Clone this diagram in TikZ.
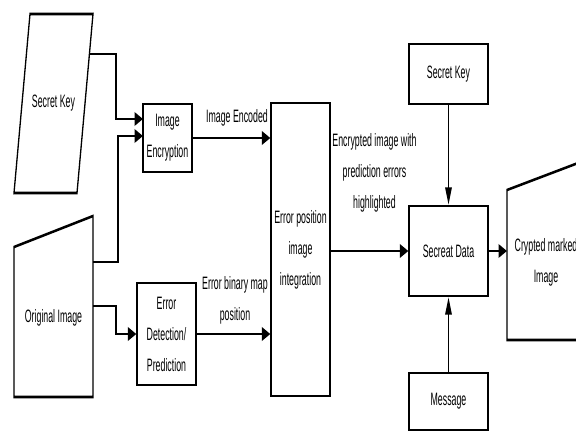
\documentclass[tikz,border=0pt]{standalone}
\usepackage{fontspec}
\setmainfont{Liberation Sans}
\usetikzlibrary{arrows.meta}
\begin{document}
\begin{tikzpicture}
\useasboundingbox (0,0) rectangle (576pt,-433pt);
\fill[white] (0,0) rectangle (576pt,-433pt);
\begin{scope}[transform canvas={yscale=2.04}, x=1pt, y=-0.4902pt,
  every node/.style={font=\fontsize{8.8}{15.2}\selectfont, align=center, inner sep=0pt},
  box/.style={draw, line width=1.3pt, inner sep=0pt},
  conn/.style={line width=1.3pt, -{Triangle[length=8.5pt,width=6.5pt]}},
  shapeline/.style={draw, line width=1.3pt}]
  % boxes
  \node[box, minimum width=49pt, minimum height=33.3pt] (enc) at (167.5,138) {Image\\Encryption};
  \node[box, minimum width=59pt, minimum height=50pt] (det) at (166.5,334) {Error\\Detection/\\Prediction};
  \node[box, minimum width=59pt, minimum height=143.6pt] (integ) at (300.5,249.5) {Error position\\image\\integration};
  \node[box, minimum width=79pt, minimum height=44.1pt] (sd) at (448.5,251) {Secreat Data};
  \node[box, minimum width=79pt, minimum height=29.4pt] (sk2) at (448.5,74) {Secret Key};
  \node[box, minimum width=79pt, minimum height=27.9pt] (msg) at (448.5,401.5) {Message};
  % secret key parallelogram
  \draw[shapeline] (30,14) -- (93,14) -- (77,193) -- (14,193) -- cycle;
  \node (sktxt) at (53.5,103) {Secret Key};
  \coordinate (skout) at (89.4,54);
  % original image
  \draw[shapeline] (14,247) -- (93,216) -- (93,397) -- (14,397) -- cycle;
  \node (oitxt) at (53.5,318) {Original Image};
  \coordinate (oiout1) at (93,262);
  \coordinate (oiout2) at (93,306);
  % crypted marked image
  \draw[shapeline] (507,190) -- (586,160) -- (586,340) -- (507,340) -- cycle;
  \node (cmtxt) at (546,262) {Crypted marked\\Image};
  \coordinate (cmin) at (507,251);
  % entry points on image encryption
  \coordinate (encin1) at (143,119);
  \coordinate (encin2) at (143,136);
  % labels
  \node (lab1) at (237,118) {Image Encoded};
  \node (lab2) at (235,300) {Error binary map\\position};
  \node (lab3) at (374.5,173) {Encrypted image with\\prediction errors\\highlighted};
  % connectors
  \draw[conn] (skout) -- (116,54) -- (116,119) -- (encin1);
  \draw[conn] (oiout1) -- (118,262) -- (118,136) -- (encin2);
  \draw[conn] (oiout2) -- (116,306) |- (det.west);
  \draw[conn] (enc.east) -- (enc.east -| integ.west);
  \draw[conn] (det.east) -- (det.east -| integ.west);
  \draw[conn] (integ.east |- sd.west) -- (sd.west);
  \draw[conn] (sk2.south) -- (sd.north);
  \draw[conn] (msg.north) -- (sd.south);
  \draw[conn] (sd.east) -- (cmin);
\end{scope}
\end{tikzpicture}
\end{document}
